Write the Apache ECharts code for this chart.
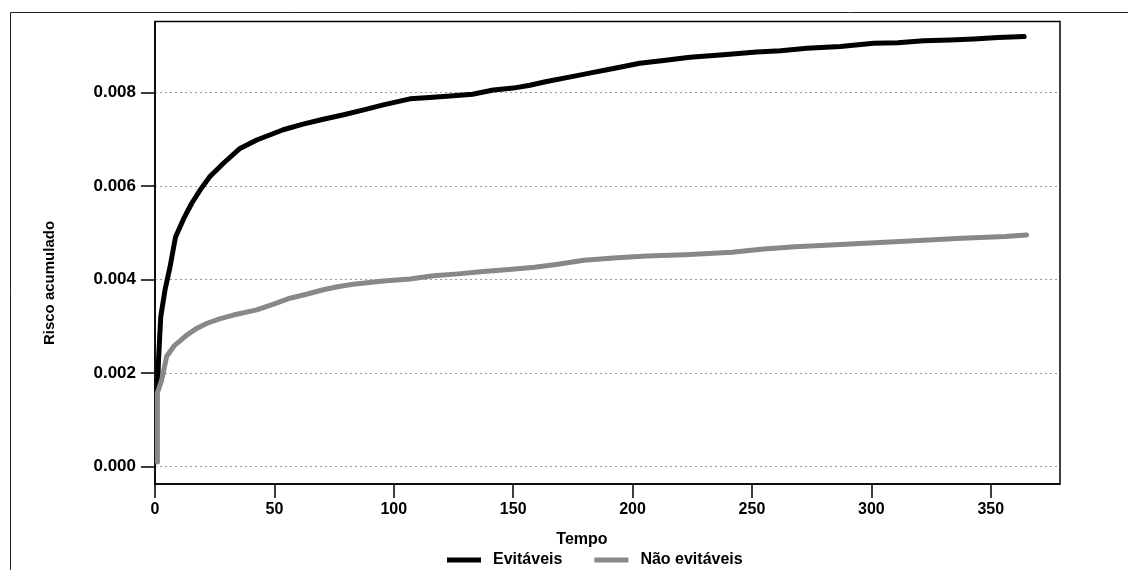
<!DOCTYPE html>
<html>
<head>
<meta charset="utf-8">
<script src="https://cdn.jsdelivr.net/npm/echarts@6/dist/echarts.min.js"></script>
<style>
html,body{margin:0;padding:0;background:#fff;}
#chart{width:1128px;height:570px;}
</style>
</head>
<body>
<div id="chart"></div>
<script>
// ---- Data ----
const seriesNames = ['Evitáveis', 'Não evitáveis'];

const tempoEvitaveis = [1, 1.5, 2.4, 4.2, 6.3, 8.6, 12, 15.4, 19, 23, 29, 35.6, 42.6, 53.7, 62, 70, 79, 87, 95.6, 106.8, 115, 123.5, 133, 141.7, 150, 157, 164, 173, 182, 192, 203, 213, 224, 238, 252, 262, 273, 287, 301, 311, 322, 333, 343, 353, 364];
const riscoEvitaveis = [0.00160, 0.00230, 0.00320, 0.00378, 0.00427, 0.00491, 0.00530, 0.00563, 0.00592, 0.00620, 0.00650, 0.00680, 0.00698, 0.00720, 0.00732, 0.00742, 0.00752, 0.00762, 0.00773, 0.00786, 0.00789, 0.00792, 0.00796, 0.00805, 0.00809, 0.00815, 0.00823, 0.00832, 0.00841, 0.00851, 0.00862, 0.00868, 0.00875, 0.00880, 0.00886, 0.00889, 0.00894, 0.00898, 0.00905, 0.00906, 0.00910, 0.00912, 0.00914, 0.00917, 0.00919];

const tempoNaoEvitaveis = [1, 1, 2.8, 4.9, 8, 13.3, 17, 21.6, 27, 32.8, 42.6, 50, 56.5, 63, 70.5, 77, 83, 95.6, 106.8, 116.6, 127, 137.5, 147, 159, 168, 179.6, 192, 206, 222, 241.6, 255, 268, 285, 303.6, 322, 337.8, 356, 365];
const riscoNaoEvitaveis = [0.0001, 0.00158, 0.00185, 0.00236, 0.00258, 0.00281, 0.00294, 0.00306, 0.00316, 0.00324, 0.00335, 0.00348, 0.00360, 0.00368, 0.00378, 0.00385, 0.00390, 0.00397, 0.00401, 0.00408, 0.00412, 0.00417, 0.00421, 0.00426, 0.00432, 0.00441, 0.00446, 0.00450, 0.00453, 0.00458, 0.00465, 0.00470, 0.00474, 0.00479, 0.00484, 0.00488, 0.00492, 0.00495];

const xTicks = [0, 50, 100, 150, 200, 250, 300, 350];
const yTicks = [0, 0.002, 0.004, 0.006, 0.008];

const xTitle = 'Tempo';
const yTitle = 'Risco acumulado';

// ---- Chart ----
const FONT = "'Liberation Sans', Arial, sans-serif";
const zip = (a, b) => a.map((v, i) => [v, b[i]]);

const chart = echarts.init(document.getElementById('chart'), null, {renderer: 'canvas'});

chart.setOption({
  animation: false,
  backgroundColor: '#fff',
  grid: {
    left: 155, right: 68, top: 21.5, bottom: 86,
    show: true, borderColor: '#000', borderWidth: 1.5, backgroundColor: 'transparent'
  },
  xAxis: {
    type: 'value',
    min: 0, max: 379,
    axisLine: {show: true, onZero: false, lineStyle: {color: '#000', width: 1.5}},
    axisTick: {show: true, length: 14, customValues: xTicks, lineStyle: {color: '#000', width: 1.5}},
    axisLabel: {
      customValues: xTicks, margin: 18,
      color: '#000', fontFamily: FONT, fontWeight: 'bold', fontSize: 16
    },
    splitLine: {show: false}
  },
  yAxis: {
    type: 'value',
    min: -0.00037, max: 0.009513,
    axisLine: {show: true, onZero: false, lineStyle: {color: '#000', width: 1.5}},
    axisTick: {show: true, length: 14, customValues: yTicks, lineStyle: {color: '#000', width: 1.5}},
    axisLabel: {
      customValues: yTicks, margin: 19,
      formatter: v => Number(v).toFixed(3),
      color: '#000', fontFamily: FONT, fontWeight: 'bold', fontSize: 17
    },
    splitLine: {show: true, lineStyle: {color: '#999', width: 1, type: [2, 3]}}
  },
  legend: {
    data: seriesNames,
    left: 442, top: 547,
    icon: 'rect', itemWidth: 34, itemHeight: 5, itemGap: 32,
    textStyle: {color: '#000', fontFamily: FONT, fontWeight: 'bold', fontSize: 16, padding: [0, 0, 0, 7]}
  },
  graphic: [
    {type: 'rect', shape: {x: 10.5, y: 12.5, width: 1300, height: 700}, style: {fill: 'none', stroke: '#222', lineWidth: 1}, silent: true, z: -1},
    {type: 'text', x: 582, y: 540, style: {text: xTitle, fill: '#000', font: "bold 16px " + FONT, textAlign: 'center', textVerticalAlign: 'middle'}},
    {type: 'text', x: 50, y: 283, rotation: Math.PI / 2, style: {text: yTitle, fill: '#000', font: "bold 15px " + FONT, textAlign: 'center', textVerticalAlign: 'middle'}}
  ],
  series: [
    {
      name: seriesNames[0], type: 'line', showSymbol: false, symbol: 'none',
      data: zip(tempoEvitaveis, riscoEvitaveis),
      itemStyle: {color: '#000'},
      lineStyle: {color: '#000', width: 5, cap: 'round', join: 'round'}
    },
    {
      name: seriesNames[1], type: 'line', showSymbol: false, symbol: 'none',
      data: zip(tempoNaoEvitaveis, riscoNaoEvitaveis),
      itemStyle: {color: '#888'},
      lineStyle: {color: '#888', width: 5, cap: 'round', join: 'round'}
    }
  ]
});
</script>
</body>
</html>
